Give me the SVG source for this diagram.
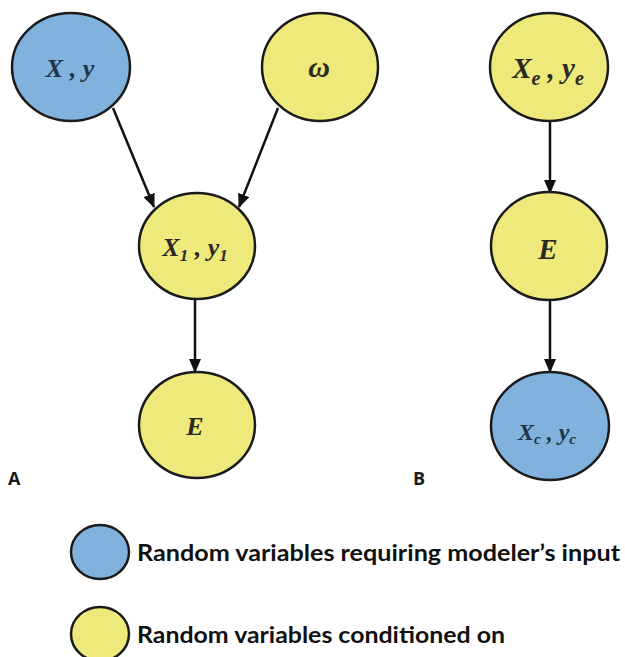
<svg xmlns="http://www.w3.org/2000/svg" width="625" height="657" viewBox="0 0 625 657">
  <style>
    .node { stroke: #1b1b1b; stroke-width: 2.5; }
    .input { fill: #80b2dd; }
    .cond { fill: #ede97b; }
    .lbl { font-family: "Liberation Serif", "Times New Roman", serif; font-style: italic; font-weight: bold; font-size: 26px; fill: #2a2a22; text-anchor: middle; }
    .lbl-in { fill: #213449; }
    .sub { font-size: 17px; }
    .edge { stroke: #111; stroke-width: 2.5; fill: none; marker-end: url(#arrow); }
    .panel { font-family: "Open Sans", "Liberation Sans", sans-serif; font-weight: bold; font-size: 18px; fill: #1a1a1a; }
    .legend { font-family: Lato, "Open Sans", "Liberation Sans", sans-serif; font-weight: bold; font-size: 23px; fill: #111; }
    .key { stroke: #1b1b1b; stroke-width: 2.5; }
  </style>
  <defs>
    <marker id="arrow" viewBox="0 0 14 12" refX="13" refY="6" markerWidth="14" markerHeight="12" markerUnits="userSpaceOnUse" orient="auto">
      <path d="M0,0 L14,6 L0,12 Z" fill="#111"/>
    </marker>
  </defs>

  <rect width="625" height="657" fill="#ffffff"/>

  <!-- connectors -->
  <g id="edges">
    <line class="edge" x1="113" y1="108" x2="154" y2="207"/>
    <line class="edge" x1="278" y1="108" x2="239" y2="207"/>
    <line class="edge" x1="195" y1="299" x2="195" y2="372"/>
    <line class="edge" x1="550" y1="121" x2="550" y2="193"/>
    <line class="edge" x1="550" y1="299" x2="550" y2="372"/>
  </g>

  <!-- panel A -->
  <g id="node-xy">
    <ellipse class="node input" cx="71" cy="67" rx="59" ry="54"/>
    <text class="lbl lbl-in" x="70" y="77">X , y</text>
  </g>
  <g id="node-omega">
    <ellipse class="node cond" cx="320" cy="67" rx="58" ry="54"/>
    <text class="lbl" x="319" y="77" style="font-size:30px">ω</text>
  </g>
  <g id="node-x1y1">
    <ellipse class="node cond" cx="197" cy="246" rx="58" ry="53"/>
    <text class="lbl" x="195" y="256">X<tspan class="sub" dy="5">1</tspan><tspan dy="-5"> , y</tspan><tspan class="sub" dy="5">1</tspan></text>
  </g>
  <g id="node-e-a">
    <ellipse class="node cond" cx="197" cy="425" rx="58" ry="53"/>
    <text class="lbl" x="195" y="435">E</text>
  </g>

  <!-- panel B -->
  <g id="node-xeye">
    <ellipse class="node cond" cx="549" cy="67" rx="59" ry="54"/>
    <text class="lbl" x="548" y="78" style="font-size:29px">X<tspan class="sub" dy="7" style="font-size:20px">e</tspan><tspan dy="-7"> , y</tspan><tspan class="sub" dy="7" style="font-size:20px">e</tspan></text>
  </g>
  <g id="node-e-b">
    <ellipse class="node cond" cx="549" cy="246" rx="58" ry="54"/>
    <text class="lbl" x="548" y="259" style="font-size:29px">E</text>
  </g>
  <g id="node-xcyc">
    <ellipse class="node input" cx="550" cy="426" rx="59" ry="54"/>
    <text class="lbl lbl-in" x="547" y="440" style="font-size:24px">X<tspan class="sub" dy="4" style="font-size:15px">c</tspan><tspan dy="-4"> , y</tspan><tspan class="sub" dy="4" style="font-size:15px">c</tspan></text>
  </g>

  <!-- panel letters -->
  <text class="panel" x="8" y="485">A</text>
  <text class="panel" x="413" y="485">B</text>

  <!-- legend -->
  <g id="legend-input">
    <ellipse class="key input" cx="100" cy="552" rx="29" ry="27"/>
    <text class="legend" x="137" y="561" textLength="483" lengthAdjust="spacingAndGlyphs">Random variables requiring modeler’s input</text>
  </g>
  <g id="legend-cond">
    <ellipse class="key cond" cx="100" cy="634" rx="29" ry="27"/>
    <text class="legend" x="137" y="643" textLength="368" lengthAdjust="spacingAndGlyphs">Random variables conditioned on</text>
  </g>
</svg>
